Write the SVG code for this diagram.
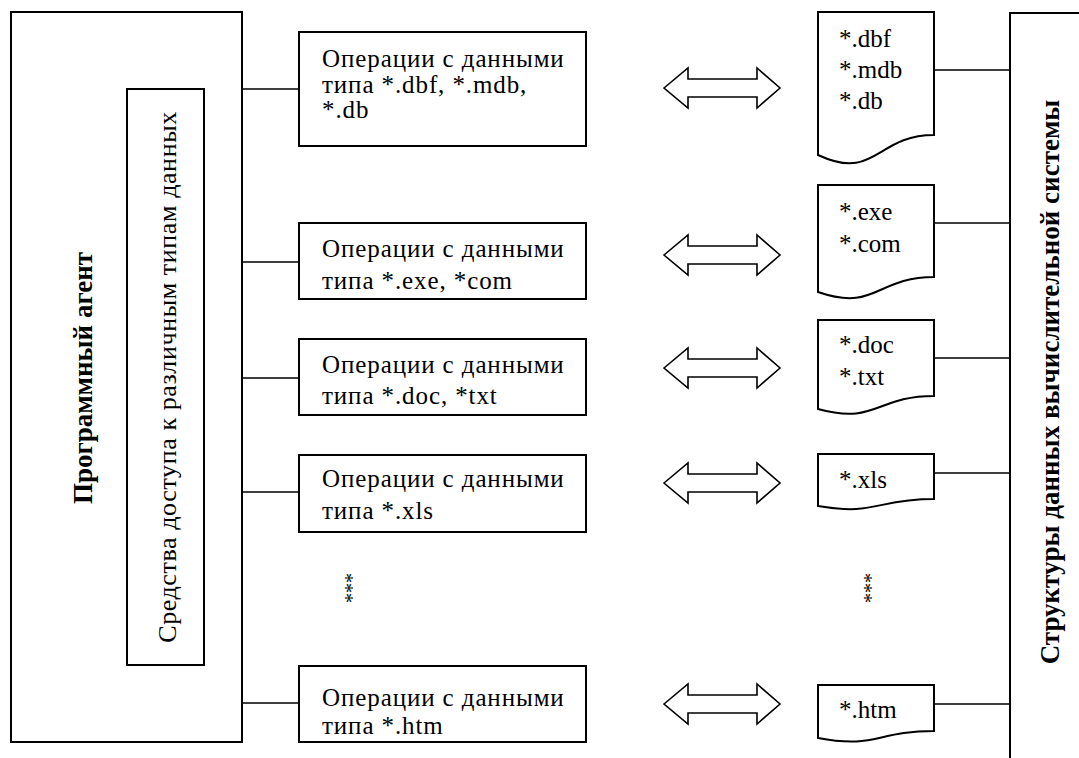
<svg xmlns="http://www.w3.org/2000/svg" width="1079" height="758" viewBox="0 0 1079 758" font-family="Liberation Serif, Times New Roman, Times, DejaVu Serif, serif">
<style>
.box{fill:#fff;stroke:#000;stroke-width:2}
.ln{fill:none;stroke:#000;stroke-width:1.6}
.arr{fill:#fff;stroke:#000;stroke-width:1.6;stroke-linejoin:miter}
.t{font-size:25px;fill:#000}
.op{letter-spacing:0.9px}
.acc{font-size:26px;letter-spacing:0.6px;fill:#000}
.b{font-size:27px;font-weight:bold;fill:#000}
.s{font-size:20px;fill:#000}
</style>
<rect width="1079" height="758" fill="#fff"/>
<g id="agent">
<rect class="box" x="11" y="12" width="231" height="730"/>
<text class="b" text-anchor="middle" transform="translate(92,378) rotate(-90)">Программный агент</text>
</g>
<g id="access">
<rect class="box" x="127" y="89" width="77" height="576"/>
<text class="acc" text-anchor="middle" transform="translate(176,377) rotate(-90)">Средства доступа к различным типам данных</text>
</g>
<g id="structures">
<path class="box" d="M1090,13 L1010,13 L1010,770"/>
<text class="b" text-anchor="middle" transform="translate(1059,382) rotate(-90)">Структуры данных вычислительной системы</text>
</g>
<g id="connectors">
<path class="ln" d="M242,89H299 M242,262H299 M242,378H299 M242,492H299 M242,703H299"/>
<path class="ln" d="M934,70H1010 M934,223H1010 M934,358H1010 M934,473H1010 M934,704H1010"/>
<path class="arr" d="M664,88 L688,68 L688,79 L757,79 L757,68 L780,88 L757,108 L757,97 L688,97 L688,108 Z"/>
<path class="arr" d="M664,255 L688,235 L688,246 L757,246 L757,235 L780,255 L757,275 L757,264 L688,264 L688,275 Z"/>
<path class="arr" d="M664,368 L688,348 L688,359 L757,359 L757,348 L780,368 L757,388 L757,377 L688,377 L688,388 Z"/>
<path class="arr" d="M664,483 L688,463 L688,474 L757,474 L757,463 L780,483 L757,503 L757,492 L688,492 L688,503 Z"/>
<path class="arr" d="M664,704 L688,684 L688,695 L757,695 L757,684 L780,704 L757,724 L757,713 L688,713 L688,724 Z"/>
</g>
<g id="op1">
<rect class="box" x="299" y="32" width="287" height="114"/>
<text class="t op" x="322" y="67">Операции с данными</text>
<text class="t op" x="322" y="93">типа *.dbf, *.mdb,</text>
<text class="t op" x="322" y="118">*.db</text>
</g>
<g id="op2">
<rect class="box" x="299" y="223" width="287" height="76"/>
<text class="t op" x="322" y="257">Операции с данными</text>
<text class="t op" x="322" y="289">типа *.exe, *com</text>
</g>
<g id="op3">
<rect class="box" x="299" y="339" width="287" height="76"/>
<text class="t op" x="322" y="373">Операции с данными</text>
<text class="t op" x="322" y="404">типа *.doc, *txt</text>
</g>
<g id="op4">
<rect class="box" x="299" y="455" width="287" height="77"/>
<text class="t op" x="322" y="487">Операции с данными</text>
<text class="t op" x="322" y="519">типа *.xls</text>
</g>
<g id="op5">
<rect class="box" x="299" y="666" width="287" height="76"/>
<text class="t op" x="322" y="706">Операции с данными</text>
<text class="t op" x="322" y="734">типа *.htm</text>
</g>
<g id="dots-left">
<text class="s" text-anchor="middle" transform="translate(359,588) rotate(-90)">***</text>
</g>
<g id="dots-right">
<text class="s" text-anchor="middle" transform="translate(878,588) rotate(-90)">***</text>
</g>
<g id="doc1">
<path class="box" d="M818,12 H934 V135 C876,135 876,182 818,155 Z"/>
<text class="t" x="839" y="47">*.dbf</text>
<text class="t" x="839" y="78">*.mdb</text>
<text class="t" x="839" y="109">*.db</text>
</g>
<g id="doc2">
<path class="box" d="M818,185 H934 V277 C876,277 876,312 818,292 Z"/>
<text class="t" x="839" y="220">*.exe</text>
<text class="t" x="839" y="252">*.com</text>
</g>
<g id="doc3">
<path class="box" d="M818,320 H934 V396 C876,396 876,425 818,409 Z"/>
<text class="t" x="839" y="353">*.doc</text>
<text class="t" x="839" y="385">*.txt</text>
</g>
<g id="doc4">
<path class="box" d="M818,454 H934 V499 C876,499 876,516 818,506 Z"/>
<text class="t" x="839" y="488">*.xls</text>
</g>
<g id="doc5">
<path class="box" d="M818,685 H934 V731 C876,731 876,749 818,738 Z"/>
<text class="t" x="839" y="718">*.htm</text>
</g>
</svg>
